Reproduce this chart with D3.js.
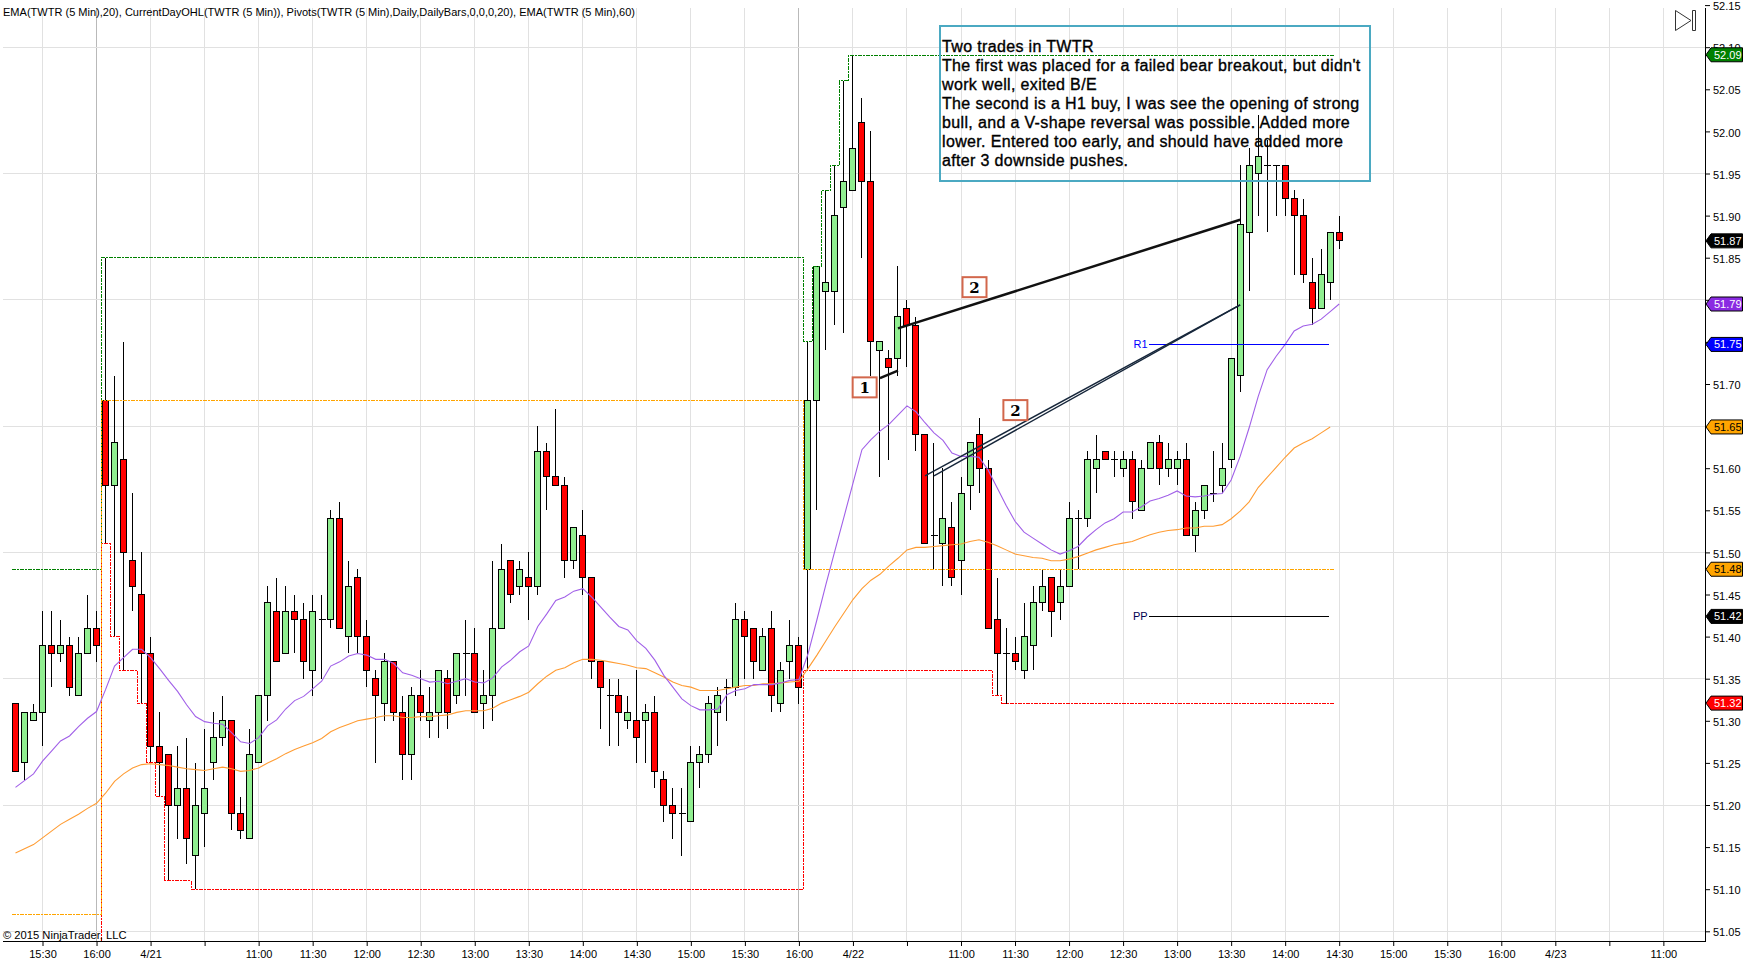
<!DOCTYPE html>
<html>
<head>
<meta charset="utf-8">
<title>TWTR 5 min</title>
<script src="https://cdn.jsdelivr.net/npm/d3@7"></script>
<style>
  html, body { margin: 0; padding: 0; background: #fff; }
  svg { display: block; font-family: "Liberation Sans", Arial, sans-serif; }
</style>
</head>
<body>
<div id="chart"></div>
<script>
// one entry per 5 min bar
const barOpen = [
  51.32,51.25,51.30,51.31,51.39,51.38,51.39,51.33,51.38,51.41,
  51.68,51.58,51.61,51.49,51.45,51.38,51.27,51.26,51.20,51.22,
  51.14,51.19,51.25,51.28,51.30,51.19,51.16,51.25,51.33,51.43,
  51.38,51.43,51.42,51.36,51.42,51.42,51.54,51.40,51.47,51.40,
  51.35,51.32,51.37,51.31,51.26,51.33,51.30,51.31,51.35,51.33,
  51.38,51.38,51.32,51.33,51.41,51.49,51.46,51.47,51.46,51.62,
  51.59,51.58,51.49,51.52,51.47,51.37,51.33,51.33,51.30,51.30,
  51.30,51.31,51.23,51.20,51.19,51.18,51.25,51.26,51.31,51.34,
  51.34,51.42,51.41,51.36,51.41,51.32,51.37,51.39,51.48,51.68,
  51.81,51.81,51.91,51.93,52.01,51.94,51.74,51.73,51.73,51.79,
  51.77,51.64,51.52,51.51,51.53,51.49,51.58,51.64,51.60,51.42,
  51.38,51.38,51.36,51.39,51.44,51.47,51.44,51.46,51.54,51.54,
  51.60,51.62,51.61,51.60,51.61,51.55,51.60,51.63,51.60,51.60,
  51.61,51.52,51.55,51.57,51.58,51.61,51.71,51.88,51.95,51.96,
  51.96,51.96,51.92,51.90,51.82,51.79,51.82,51.88
]
const barHigh = [
  51.32,51.31,51.32,51.43,51.43,51.42,51.40,51.40,51.45,51.43,
  51.85,51.71,51.75,51.57,51.50,51.40,51.31,51.26,51.27,51.28,
  51.25,51.29,51.31,51.33,51.30,51.21,51.29,51.33,51.46,51.47,
  51.46,51.45,51.44,51.45,51.45,51.55,51.56,51.49,51.48,51.42,
  51.36,51.38,51.37,51.33,51.34,51.36,51.34,51.36,51.36,51.38,
  51.42,51.41,51.36,51.49,51.51,51.49,51.49,51.50,51.65,51.63,
  51.67,51.59,51.53,51.55,51.47,51.37,51.35,51.35,51.33,51.36,
  51.32,51.33,51.24,51.22,51.22,51.27,51.27,51.33,51.34,51.35,
  51.44,51.43,51.41,51.41,51.43,51.37,51.42,51.40,51.75,51.84,
  51.93,51.96,52.06,52.09,52.04,52.00,51.75,51.74,51.84,51.80,
  51.78,51.64,51.63,51.60,51.56,51.59,51.63,51.66,51.61,51.47,
  51.41,51.40,51.44,51.46,51.48,51.47,51.48,51.56,51.55,51.62,
  51.64,51.62,51.62,51.62,51.62,51.61,51.63,51.64,51.63,51.62,
  51.63,51.56,51.58,51.62,51.63,51.73,51.96,51.98,52.02,51.99,
  51.96,51.96,51.93,51.92,51.85,51.86,51.88,51.90
]
const barLow = [
  51.24,51.23,51.30,51.27,51.34,51.37,51.33,51.33,51.38,51.37,
  51.51,51.40,51.36,51.43,51.32,51.25,51.21,51.11,51.16,51.13,
  51.10,51.15,51.23,51.27,51.17,51.16,51.16,51.25,51.30,51.37,
  51.38,51.38,51.35,51.33,51.35,51.41,51.41,51.38,51.38,51.34,
  51.25,51.30,51.30,51.23,51.23,51.30,51.28,51.28,51.29,51.32,
  51.33,51.31,51.29,51.30,51.41,51.44,51.45,51.42,51.45,51.55,
  51.58,51.47,51.48,51.45,51.35,51.29,51.27,51.27,51.29,51.25,
  51.25,51.22,51.18,51.16,51.14,51.18,51.22,51.25,51.27,51.30,
  51.33,51.35,51.35,51.36,51.31,51.31,51.35,51.32,51.36,51.55,
  51.74,51.77,51.76,51.93,51.85,51.71,51.59,51.61,51.71,51.72,
  51.62,51.51,51.48,51.46,51.46,51.45,51.55,51.57,51.41,51.33,
  51.32,51.36,51.35,51.36,51.43,51.40,51.42,51.46,51.48,51.53,
  51.57,51.61,51.59,51.59,51.54,51.55,51.60,51.58,51.59,51.58,
  51.52,51.50,51.54,51.56,51.57,51.60,51.69,51.81,51.90,51.88,
  51.90,51.90,51.83,51.82,51.77,51.79,51.80,51.86
]
const barClose = [
  51.24,51.31,51.31,51.39,51.38,51.39,51.34,51.38,51.41,51.39,
  51.58,51.63,51.50,51.46,51.38,51.27,51.25,51.20,51.22,51.16,
  51.20,51.22,51.28,51.30,51.19,51.17,51.26,51.33,51.44,51.37,
  51.43,51.42,51.37,51.43,51.42,51.54,51.41,51.46,51.40,51.36,
  51.33,51.37,51.31,51.26,51.33,51.31,51.31,51.36,51.31,51.38,
  51.38,51.31,51.33,51.41,51.48,51.45,51.48,51.46,51.62,51.59,
  51.58,51.49,51.53,51.47,51.37,51.34,51.33,51.31,51.31,51.28,
  51.31,51.24,51.20,51.19,51.19,51.25,51.26,51.32,51.33,51.34,
  51.42,51.40,51.37,51.40,51.33,51.36,51.39,51.34,51.68,51.84,
  51.82,51.90,51.94,51.98,51.94,51.75,51.75,51.72,51.78,51.77,
  51.64,51.51,51.52,51.54,51.47,51.57,51.63,51.60,51.41,51.38,
  51.38,51.37,51.40,51.44,51.46,51.43,51.46,51.54,51.54,51.61,
  51.61,51.61,51.61,51.61,51.56,51.60,51.63,51.60,51.61,51.61,
  51.52,51.55,51.58,51.57,51.60,51.73,51.89,51.96,51.97,51.96,
  51.96,51.92,51.90,51.83,51.79,51.83,51.88,51.87
]

const ema20 = [
  51.221,51.229,51.237,51.252,51.264,51.276,51.282,51.293,51.303,51.311,
  51.337,51.365,51.375,51.385,51.385,51.375,51.362,51.348,51.335,51.319,
  51.305,51.299,51.297,51.296,51.286,51.275,51.273,51.280,51.294,51.301,
  51.314,51.324,51.329,51.338,51.347,51.365,51.370,51.377,51.380,51.378,
  51.373,51.373,51.368,51.357,51.354,51.350,51.346,51.347,51.344,51.347,
  51.350,51.346,51.345,51.351,51.364,51.372,51.382,51.389,51.412,51.427,
  51.443,51.447,51.454,51.457,51.447,51.435,51.423,51.412,51.408,51.395,
  51.386,51.372,51.354,51.340,51.326,51.318,51.313,51.313,51.314,51.331,
  51.336,51.338,51.343,51.343,51.343,51.345,51.348,51.349,51.379,51.420,
  51.462,51.502,51.542,51.582,51.622,51.634,51.644,51.652,51.663,51.674,
  51.667,51.654,51.642,51.633,51.618,51.614,51.614,51.613,51.598,51.577,
  51.556,51.537,51.524,51.517,51.510,51.503,51.498,51.502,51.507,51.518,
  51.527,51.535,51.540,51.548,51.548,51.554,51.561,51.564,51.568,51.573,
  51.567,51.566,51.567,51.569,51.570,51.586,51.614,51.648,51.685,51.717,
  51.733,51.747,51.763,51.769,51.771,51.777,51.786,51.795
]
const ema60 = [
  51.143,51.148,51.153,51.161,51.169,51.177,51.183,51.189,51.196,51.202,
  51.214,51.228,51.237,51.244,51.248,51.249,51.248,51.247,51.245,51.243,
  51.242,51.241,51.243,51.245,51.243,51.240,51.241,51.244,51.250,51.255,
  51.261,51.266,51.270,51.274,51.279,51.287,51.292,51.296,51.300,51.302,
  51.304,51.306,51.306,51.304,51.304,51.305,51.305,51.306,51.307,51.310,
  51.312,51.312,51.312,51.315,51.321,51.325,51.329,51.334,51.344,51.353,
  51.360,51.363,51.369,51.373,51.373,51.372,51.370,51.368,51.366,51.363,
  51.362,51.357,51.352,51.346,51.342,51.340,51.336,51.336,51.336,51.338,
  51.340,51.342,51.342,51.344,51.344,51.345,51.346,51.347,51.362,51.378,
  51.395,51.412,51.428,51.444,51.457,51.467,51.474,51.484,51.493,51.503,
  51.506,51.506,51.507,51.508,51.509,51.510,51.513,51.515,51.512,51.508,
  51.503,51.498,51.496,51.494,51.493,51.490,51.490,51.492,51.495,51.499,
  51.503,51.506,51.509,51.511,51.513,51.517,51.521,51.524,51.526,51.527,
  51.529,51.529,51.531,51.531,51.533,51.540,51.549,51.560,51.577,51.589,
  51.601,51.613,51.624,51.630,51.635,51.642,51.649
]

// CurrentDayOHL, the bar where each level starts and the level itself
const dayHighBars = [0.15,10,88,89,90,91,92,93]
const dayHighValues = [51.48,51.85,51.75,51.84,51.93,51.96,52.06,52.09]
const dayOpenBars = [0.15,10,88]
const dayOpenValues = [51.07,51.68,51.48]
const dayLowBars = [0.15,10,11,12,14,15,16,17,20,88,109,110]
const dayLowValues = [51.03,51.51,51.40,51.36,51.32,51.25,51.21,51.11,51.10,51.36,51.33,51.32]
const ohlEndBar = 147

const pivotNames = ["R1","PP"]
const pivotValues = [51.747,51.424]
const pivotStartBar = 125.83
const pivotEndBar = 145.87

const tickLabels = ["15:30","16:00","4/21","","11:00","11:30","12:00","12:30","13:00","13:30","14:00","14:30","15:00","15:30","16:00","4/22","","11:00","11:30","12:00","12:30","13:00","13:30","14:00","14:30","15:00","15:30","16:00","4/23","","11:00"]
const tickBars = tickLabels.map((_, k) => 3 + 6 * k)
const sessionBreakBars = [9, 87]

const priceTicks = [52.15,52.10,52.05,52.00,51.95,51.90,51.85,51.80,51.75,51.70,51.65,51.60,51.55,51.50,51.45,51.40,51.35,51.30,51.25,51.20,51.15,51.10,51.05]
const priceGrid = [52.10,51.95,51.80,51.65,51.50,51.35,51.20,51.05]
// these sit fully behind a value tag in the picture
const hiddenPriceLabels = [51.80,51.75,51.65]

const tagValues = [52.091,51.87,51.795,51.747,51.649,51.48,51.424,51.321]
const tagLabels = ["52.09","51.87","51.79","51.75","51.65","51.48","51.42","51.32"]
const tagFills = ["#008000","#000000","#8a2be2","#0000ff","#ffa500","#ffa500","#000000","#ff0000"]
const tagInks = ["#fff","#fff","#fff","#fff","#000","#000","#fff","#fff"]

// trade lines: from bar, from price, to bar, to price
const tradeFromBar = [96,98,101,102]
const tradeFromPrice = [51.707,51.766,51.591,51.591]
const tradeToBar = [98,136,136,136]
const tradeToPrice = [51.716,51.895,51.794,51.794]
const tradeWidths = [2.5,2.5,1.4,1.4]
const tradeColors = ["#111","#111","#16263a","#16263a"]

const markerText = ["1","2","2"]
const markerBar = [94.3,106.5,111.04]
const markerPrice = [51.696,51.815,51.669]

const noteLines = [
  "Two trades in TWTR",
  "The first was placed for a failed bear breakout, but didn't",
  "work well, exited B/E",
  "The second is a H1 buy, I was see the opening of strong",
  "bull, and a V-shape reversal was possible. Added more",
  "lower. Entered too early, and should have added more",
  "after 3 downside pushes."
]

const WIDTH = 1752
const HEIGHT = 968
const PLOT_RIGHT = 1705
const PLOT_TOP = 8
const PLOT_BOTTOM = 941
const BAR_HALF = 4.5

const x = d3.scaleLinear().domain([0, 147]).range([15.5, 1339.2])
const y = d3.scaleLinear().domain([51.05, 52.15]).range([931.3, 5.1])

const svg = d3.select("#chart").append("svg")
  .attr("width", WIDTH)
  .attr("height", HEIGHT)

svg.append("defs").append("clipPath").attr("id", "plot")
  .append("rect")
  .attr("x", 0).attr("y", PLOT_TOP)
  .attr("width", PLOT_RIGHT).attr("height", PLOT_BOTTOM - PLOT_TOP)

// grid
const grid = svg.append("g").attr("shape-rendering", "crispEdges")
grid.selectAll(".vgrid").data(tickBars).enter().append("line")
  .attr("class", "vgrid")
  .attr("x1", d => x(d)).attr("x2", d => x(d))
  .attr("y1", PLOT_TOP).attr("y2", PLOT_BOTTOM)
  .attr("stroke", d => sessionBreakBars.includes(d) ? "#b9b9b9" : "#e1e1e1")
grid.selectAll(".hgrid").data(priceGrid).enter().append("line")
  .attr("class", "hgrid")
  .attr("x1", 3).attr("x2", PLOT_RIGHT)
  .attr("y1", d => y(d)).attr("y2", d => y(d))
  .attr("stroke", "#e1e1e1")

const plot = svg.append("g").attr("clip-path", "url(#plot)")

// candles
const bars = d3.range(barOpen.length)
const candles = plot.append("g").attr("shape-rendering", "crispEdges")
candles.selectAll(".wick").data(bars).enter().append("line")
  .attr("class", "wick")
  .attr("x1", i => x(i)).attr("x2", i => x(i))
  .attr("y1", i => y(barHigh[i])).attr("y2", i => y(barLow[i]))
  .attr("stroke", "#000")
candles.selectAll(".body").data(bars.filter(i => barOpen[i] !== barClose[i])).enter().append("rect")
  .attr("class", "body")
  .attr("x", i => x(i) - 3)
  .attr("width", 6)
  .attr("y", i => y(Math.max(barOpen[i], barClose[i])))
  .attr("height", i => Math.abs(y(barOpen[i]) - y(barClose[i])))
  .attr("fill", i => barClose[i] > barOpen[i] ? "#90ee90" : "#ff0000")
  .attr("stroke", "#000")
candles.selectAll(".doji").data(bars.filter(i => barOpen[i] === barClose[i])).enter().append("line")
  .attr("class", "doji")
  .attr("x1", i => x(i) - 3).attr("x2", i => x(i) + 4)
  .attr("y1", i => y(barOpen[i])).attr("y2", i => y(barOpen[i]))
  .attr("stroke", "#000")

// day high / low / open steps
const stepLine = d3.line()
  .x(d => x(d[0]) - BAR_HALF)
  .y(d => y(d[1]))
  .curve(d3.curveStepAfter)

function drawSteps(barsIn, values, color) {
  const pts = barsIn.map((b, k) => [b, values[k]])
  pts.push([ohlEndBar, values[values.length - 1]])
  plot.append("path")
    .attr("d", stepLine(pts))
    .attr("fill", "none")
    .attr("stroke", color)
    .attr("stroke-dasharray", "4,1,2,1")
    .attr("shape-rendering", "crispEdges")
}
drawSteps(dayHighBars, dayHighValues, "#008000")
drawSteps(dayLowBars, dayLowValues, "#ff0000")
drawSteps(dayOpenBars, dayOpenValues, "#ffa500")

// EMAs
const emaLine = d3.line().x((_, i) => x(i)).y(d => y(d))
plot.append("path").attr("d", emaLine(ema60))
  .attr("fill", "none").attr("stroke", "#ff9c33").attr("stroke-width", 1.1)
plot.append("path").attr("d", emaLine(ema20))
  .attr("fill", "none").attr("stroke", "#a160e8").attr("stroke-width", 1.1)

// pivots
const pivotColors = ["#0000ff", "#000000"]
const pivotTextColors = ["#0000ff", "#000050"]
plot.selectAll(".pivot").data(pivotValues).enter().append("line")
  .attr("class", "pivot")
  .attr("x1", x(pivotStartBar)).attr("x2", x(pivotEndBar))
  .attr("y1", d => y(d)).attr("y2", d => y(d))
  .attr("stroke", (_, i) => pivotColors[i])
  .attr("shape-rendering", "crispEdges")
plot.selectAll(".pivot-label").data(pivotValues).enter().append("text")
  .attr("class", "pivot-label")
  .attr("x", x(pivotStartBar) - 1)
  .attr("y", d => y(d) + 4)
  .attr("text-anchor", "end")
  .attr("font-size", 11)
  .attr("fill", (_, i) => pivotTextColors[i])
  .text((_, i) => pivotNames[i])

// trade lines and their numbered boxes
plot.selectAll(".trade").data(tradeFromBar).enter().append("line")
  .attr("class", "trade")
  .attr("x1", (d, i) => x(d)).attr("y1", (d, i) => y(tradeFromPrice[i]))
  .attr("x2", (d, i) => x(tradeToBar[i])).attr("y2", (d, i) => y(tradeToPrice[i]))
  .attr("stroke", (d, i) => tradeColors[i])
  .attr("stroke-width", (d, i) => tradeWidths[i])

const marker = plot.selectAll(".marker").data(markerText).enter().append("g")
  .attr("class", "marker")
  .attr("transform", (d, i) => "translate(" + x(markerBar[i]) + "," + y(markerPrice[i]) + ")")
marker.append("rect")
  .attr("x", -12).attr("y", -10).attr("width", 24).attr("height", 20)
  .attr("fill", "#fff").attr("stroke", "#d2674c").attr("stroke-width", 2)
marker.append("text")
  .attr("y", 5.5)
  .attr("text-anchor", "middle")
  .attr("font-family", "'DejaVu Serif', serif")
  .attr("font-weight", "bold")
  .attr("font-size", 15)
  .text(d => d)

// axes
const xAxis = d3.axisBottom(x)
  .tickValues(tickBars)
  .tickFormat((_, k) => tickLabels[k])
  .tickSize(5)
  .tickPadding(4)
const gx = svg.append("g").attr("transform", "translate(0," + PLOT_BOTTOM + ")").call(xAxis)
gx.select(".domain").remove()
gx.selectAll("text").attr("font-size", 11).attr("font-family", "'Liberation Sans'").attr("fill", "#000")

const yAxis = d3.axisRight(y)
  .tickValues(priceTicks)
  .tickFormat(d => hiddenPriceLabels.includes(d) ? "" : d3.format(".2f")(d))
  .tickSize(5)
  .tickPadding(3)
const gy = svg.append("g").attr("transform", "translate(" + PLOT_RIGHT + ",0)").call(yAxis)
gy.select(".domain").remove()
gy.selectAll("text").attr("font-size", 11).attr("dy", "0.42em").attr("font-family", "'Liberation Sans'").attr("fill", "#000")

svg.append("path")
  .attr("d", "M3," + (PLOT_BOTTOM + 0.5) + "H" + (PLOT_RIGHT + 0.5) + "V" + PLOT_TOP)
  .attr("fill", "none").attr("stroke", "#000").attr("shape-rendering", "crispEdges")

// right side value tags
const tag = svg.selectAll(".tag").data(tagValues).enter().append("g")
  .attr("class", "tag")
  .attr("transform", d => "translate(0," + y(d) + ")")
tag.append("path")
  .attr("d", "M1706,0L1711,-7H1742.5V7H1711Z")
  .attr("fill", (_, i) => tagFills[i])
  .attr("stroke", "#000")
tag.append("text")
  .attr("x", 1714).attr("y", 4)
  .attr("font-size", 11)
  .attr("fill", (_, i) => tagInks[i])
  .text((_, i) => tagLabels[i])

// note box sits over the candles
const note = svg.append("g")
note.append("rect")
  .attr("x", 940).attr("y", 26).attr("width", 430).attr("height", 155)
  .attr("fill", "none").attr("stroke", "#4ba9c2").attr("stroke-width", 2)
note.selectAll("text").data(noteLines).enter().append("text")
  .attr("x", 942)
  .attr("y", (_, i) => 51.5 + i * 19)
  .attr("font-size", 16)
  .attr("letter-spacing", 0.35)
  .attr("fill", "#000")
  .attr("stroke", "#000")
  .attr("stroke-width", 0.35)
  .text(d => d)

// header and copyright
svg.append("text")
  .attr("x", 3).attr("y", 16)
  .attr("font-size", 11.5)
  .attr("textLength", 632)
  .attr("lengthAdjust", "spacingAndGlyphs")
  .text("EMA(TWTR (5 Min),20), CurrentDayOHL(TWTR (5 Min)), Pivots(TWTR (5 Min),Daily,DailyBars,0,0,0,20), EMA(TWTR (5 Min),60)")
svg.append("text")
  .attr("x", 3).attr("y", 939)
  .attr("font-size", 11.2)
  .text("\u00a9 2015 NinjaTrader, LLC")

// the little skip-to-end button
svg.append("path")
  .attr("d", "M1675.5,10.5L1691,20.5L1675.5,30.5ZM1692.5,10.5H1695.5V30.5H1692.5Z")
  .attr("fill", "#fff").attr("stroke", "#333")
</script>
</body>
</html>
